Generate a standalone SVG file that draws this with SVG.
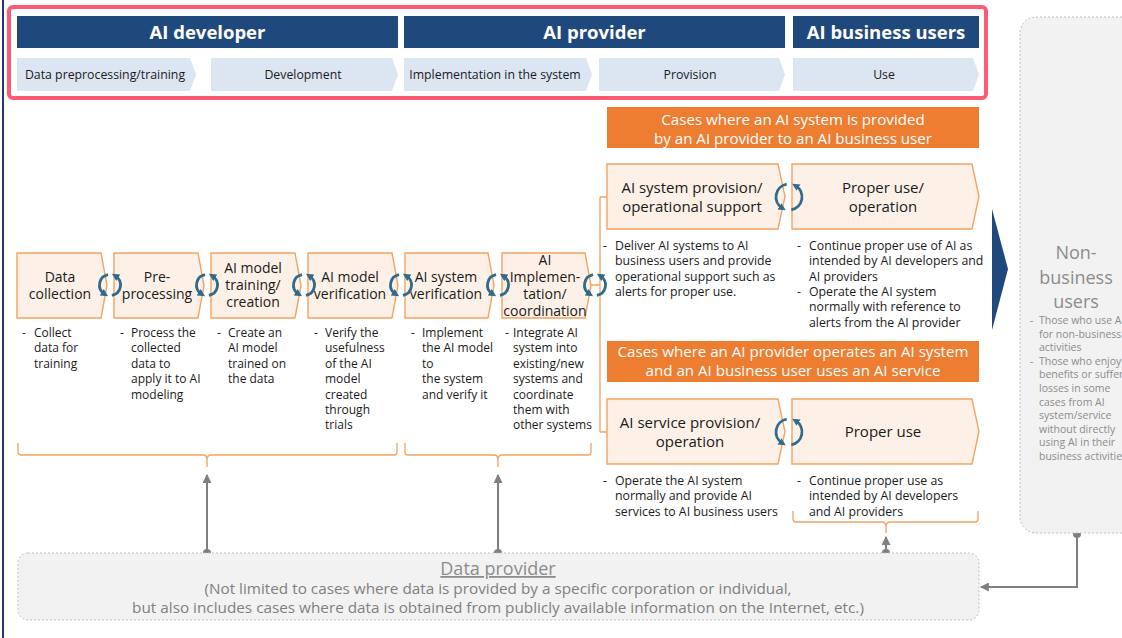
<svg xmlns="http://www.w3.org/2000/svg" width="1122" height="638" viewBox="0 0 1122 638">
  <defs>
    <style>
      text { font-family: "Open Sans", "Liberation Sans", sans-serif; }
      .bar { fill: #1f497d; }
      .barText { fill: #ffffff; font-size: 18.5px; font-weight: bold; text-anchor: middle; }
      .sub { fill: #dce6f2; }
      .subText { fill: #1a1a1a; font-size: 12.3px; text-anchor: middle; }
      .step { fill: #fdf1e7; stroke: #f4a262; stroke-width: 1.4; }
      .stepText { fill: #1a1a1a; font-size: 14px; text-anchor: middle; }
      .caseStep { fill: #fdf1e7; stroke: #f4a262; stroke-width: 1.4; }
      .caseText { fill: #1a1a1a; font-size: 15px; text-anchor: middle; }
      .desc { fill: #1a1a1a; font-size: 12px; }
      .descWide { fill: #1a1a1a; font-size: 12.3px; }
      .caseHead { fill: #ed7d31; }
      .caseHeadText { fill: #ffffff; font-size: 15.1px; text-anchor: middle; }
      .bracket { fill: none; stroke: #f4a262; stroke-width: 1.3; }
      .cycle { fill: none; stroke: #2e6b8c; stroke-width: 2.8; }
      .gray { fill: none; stroke: #7f7f7f; stroke-width: 2; }
      .dot { fill: #7f7f7f; }
      .panel { fill: #f2f2f2; stroke: #bfbfbf; stroke-width: 1; stroke-dasharray: 2 2; }
      .panelTitle { fill: #8c8c8c; text-anchor: middle; }
    </style>
    <marker id="cycleHead" viewBox="0 0 6 6" refX="2.5" refY="3" markerWidth="7.5" markerHeight="7.5" markerUnits="userSpaceOnUse" orient="auto">
      <path d="M0,0 L6,3 L0,6 Z" fill="#2e6b8c"/>
    </marker>
    <marker id="grayHead" viewBox="0 0 8 8" refX="7" refY="4" markerWidth="9" markerHeight="9" markerUnits="userSpaceOnUse" orient="auto">
      <path d="M0,0 L8,4 L0,8 Z" fill="#7f7f7f"/>
    </marker>
    <!-- rotating-arrows glyph -->
    <g id="cycleSmall">
      <path class="cycle" d="M-1.9,-10.3 A10.5,10.5 0 0 0 -5.6,8.9" marker-end="url(#cycleHead)"/>
      <path class="cycle" d="M1.9,10.3 A10.5,10.5 0 0 0 5.6,-8.9" marker-end="url(#cycleHead)"/>
    </g>
    <g id="cycleLarge">
      <path class="cycle" d="M-2.3,-12.8 A13,13 0 0 0 -6.9,11" marker-end="url(#cycleHead)"/>
      <path class="cycle" d="M2.3,12.8 A13,13 0 0 0 6.9,-11" marker-end="url(#cycleHead)"/>
    </g>
  </defs>

  <rect width="1122" height="638" fill="#ffffff"/>
  <!-- page edge -->
  <line x1="3" y1="0" x2="3" y2="638" stroke="#2e3170" stroke-width="2"/>

  <!-- role header -->
  <g id="roles">
    <rect x="9" y="7" width="977" height="91" rx="4" fill="none" stroke="#ff5a73" stroke-width="4"/>
    <g id="role-developer">
      <rect class="bar" x="17" y="16" width="381" height="32"/>
      <text class="barText" x="207.5" y="39">AI developer</text>
    </g>
    <g id="role-provider">
      <rect class="bar" x="404" y="16" width="381" height="32"/>
      <text class="barText" x="594.5" y="39">AI provider</text>
    </g>
    <g id="role-business">
      <rect class="bar" x="793" y="16" width="186" height="32"/>
      <text class="barText" x="886" y="39">AI business users</text>
    </g>
    <g id="phase-preprocessing">
      <path class="sub" d="M17,58 H190 L196,74.5 L190,91 H17 Z"/>
      <text class="subText" x="105" y="79">Data preprocessing/training</text>
    </g>
    <g id="phase-development">
      <path class="sub" d="M211,58 H392 L398,74.5 L392,91 H211 Z"/>
      <text class="subText" x="303" y="79">Development</text>
    </g>
    <g id="phase-implementation">
      <path class="sub" d="M404,58 H586 L592,74.5 L586,91 H404 Z"/>
      <text class="subText" x="495" y="79">Implementation in the system</text>
    </g>
    <g id="phase-provision">
      <path class="sub" d="M599,58 H779 L785,74.5 L779,91 H599 Z"/>
      <text class="subText" x="690" y="79">Provision</text>
    </g>
    <g id="phase-use">
      <path class="sub" d="M793,58 H973 L979,74.5 L973,91 H793 Z"/>
      <text class="subText" x="884" y="79">Use</text>
    </g>
  </g>

  <!-- connectors -->
  <g id="connectors">
    <path class="bracket" d="M591,285 H600 M600,197 V432 M600,197 H607 M600,432 H607"/>
    <path class="bracket" d="M18,443 V452 Q18,455 21,455 H203 Q207,455 207,460 V467 M207,460 Q207,455 211,455 H394 Q397,455 397,452 V443"/>
    <path class="bracket" d="M405,443 V452 Q405,455 408,455 H494 Q498,455 498,460 V467 M498,460 Q498,455 502,455 H588 Q591,455 591,452 V443"/>
    <path class="bracket" d="M793,511 V519 Q793,522 796,522 H882 Q886,522 886,527 V533 M886,527 Q886,522 890,522 H975 Q978,522 978,519 V511"/>
    <path class="gray" d="M207,553 V475" marker-end="url(#grayHead)"/>
    <path class="gray" d="M498,553 V475" marker-end="url(#grayHead)"/>
    <path class="gray" d="M886,553 V537" marker-end="url(#grayHead)"/>
    <path class="gray" d="M1077,534 V587 H981" marker-end="url(#grayHead)"/>
    <circle class="dot" cx="207" cy="553" r="4"/>
    <circle class="dot" cx="498" cy="553" r="4"/>
    <circle class="dot" cx="886" cy="553" r="4"/>
    <circle class="dot" cx="1077" cy="534" r="4"/>
  </g>

  <!-- development chain -->
  <g id="step-collection">
    <path class="step" d="M17,253 H101 L107,285.5 L101,318 H17 Z"/>
    <text class="stepText" x="60" y="282"><tspan x="60">Data</tspan><tspan x="60" dy="17">collection</tspan></text>
    <text class="desc" x="22" y="337">-</text>
    <text class="desc" y="337"><tspan x="34">Collect</tspan><tspan x="34" dy="15.4">data for</tspan><tspan x="34" dy="15.4">training</tspan></text>
  </g>
  <g id="step-preprocessing">
    <path class="step" d="M114,253 H198 L204,285.5 L198,318 H114 Z"/>
    <text class="stepText" x="157" y="282"><tspan x="157">Pre-</tspan><tspan x="157" dy="17">processing</tspan></text>
    <text class="desc" x="120" y="337">-</text>
    <text class="desc" y="337"><tspan x="131">Process the</tspan><tspan x="131" dy="15.4">collected</tspan><tspan x="131" dy="15.4">data to</tspan><tspan x="131" dy="15.4">apply it to AI</tspan><tspan x="131" dy="15.4">modeling</tspan></text>
  </g>
  <g id="step-training">
    <path class="step" d="M211,253 H295 L301,285.5 L295,318 H211 Z"/>
    <text class="stepText" x="253" y="273"><tspan x="253">AI model</tspan><tspan x="253" dy="17">training/</tspan><tspan x="253" dy="17">creation</tspan></text>
    <text class="desc" x="217" y="337">-</text>
    <text class="desc" y="337"><tspan x="228">Create an</tspan><tspan x="228" dy="15.4">AI model</tspan><tspan x="228" dy="15.4">trained on</tspan><tspan x="228" dy="15.4">the data</tspan></text>
  </g>
  <g id="step-model-verification">
    <path class="step" d="M308,253 H392 L398,285.5 L392,318 H308 Z"/>
    <text class="stepText" x="350" y="282"><tspan x="350">AI model</tspan><tspan x="350" dy="17">verification</tspan></text>
    <text class="desc" x="314" y="337">-</text>
    <text class="desc" y="337"><tspan x="325">Verify the</tspan><tspan x="325" dy="15.4">usefulness</tspan><tspan x="325" dy="15.4">of the AI</tspan><tspan x="325" dy="15.4">model</tspan><tspan x="325" dy="15.4">created</tspan><tspan x="325" dy="15.4">through</tspan><tspan x="325" dy="15.4">trials</tspan></text>
  </g>
  <g id="step-system-verification">
    <path class="step" d="M405,253 H488 L494,285.5 L488,318 H405 Z"/>
    <text class="stepText" x="446" y="282"><tspan x="446">AI system</tspan><tspan x="446" dy="17">verification</tspan></text>
    <text class="desc" x="411" y="337">-</text>
    <text class="desc" y="337"><tspan x="422">Implement</tspan><tspan x="422" dy="15.4">the AI model</tspan><tspan x="422" dy="15.4">to</tspan><tspan x="422" dy="15.4">the system</tspan><tspan x="422" dy="15.4">and verify it</tspan></text>
  </g>
  <g id="step-implementation">
    <path class="step" d="M502,253 H585 L591,285.5 L585,318 H502 Z"/>
    <text class="stepText" x="545" y="265"><tspan x="545">AI</tspan><tspan x="545" dy="17">Implemen-</tspan><tspan x="545" dy="17">tation/</tspan><tspan x="545" dy="17">coordination</tspan></text>
    <text class="desc" x="505" y="337">-</text>
    <text class="desc" y="337"><tspan x="513">Integrate AI</tspan><tspan x="513" dy="15.4">system into</tspan><tspan x="513" dy="15.4">existing/new</tspan><tspan x="513" dy="15.4">systems and</tspan><tspan x="513" dy="15.4">coordinate</tspan><tspan x="513" dy="15.4">them with</tspan><tspan x="513" dy="15.4">other systems</tspan></text>
  </g>

  <!-- case: system provided to business user -->
  <g id="case-system">
    <rect class="caseHead" x="607" y="107" width="372" height="41"/>
    <text class="caseHeadText" x="793" y="125"><tspan x="793">Cases where an AI system is provided</tspan><tspan x="793" dy="19">by an AI provider to an AI business user</tspan></text>
  </g>
  <g id="system-provision">
    <path class="caseStep" d="M607,164 H778 L785,196.5 L778,229 H607 Z"/>
    <text class="caseText" x="692" y="193"><tspan x="692">AI system provision/</tspan><tspan x="692" dy="19">operational support</tspan></text>
    <text class="descWide" x="603" y="250">-</text>
    <text class="descWide" y="250"><tspan x="615">Deliver AI systems to AI</tspan><tspan x="615" dy="15.3">business users and provide</tspan><tspan x="615" dy="15.3">operational support such as</tspan><tspan x="615" dy="15.3">alerts for proper use.</tspan></text>
  </g>
  <g id="system-use">
    <path class="caseStep" d="M792,164 H972 L979,196.5 L972,229 H792 Z"/>
    <text class="caseText" x="883" y="193"><tspan x="883">Proper use/</tspan><tspan x="883" dy="19">operation</tspan></text>
    <text class="descWide" x="797" y="250">-</text>
    <text class="descWide" y="250"><tspan x="809">Continue proper use of AI as</tspan><tspan x="809" dy="15.3">intended by AI developers and</tspan><tspan x="809" dy="15.3">AI providers</tspan></text>
    <text class="descWide" x="797" y="296">-</text>
    <text class="descWide" y="296"><tspan x="809">Operate the AI system</tspan><tspan x="809" dy="15.3">normally with reference to</tspan><tspan x="809" dy="15.3">alerts from the AI provider</tspan></text>
  </g>

  <!-- case: provider operates, business user uses service -->
  <g id="case-service">
    <rect class="caseHead" x="607" y="341" width="372" height="41"/>
    <text class="caseHeadText" x="793" y="357"><tspan x="793">Cases where an AI provider operates an AI system</tspan><tspan x="793" dy="19">and an AI business user uses an AI service</tspan></text>
  </g>
  <g id="service-provision">
    <path class="caseStep" d="M607,399 H778 L785,431.5 L778,464 H607 Z"/>
    <text class="caseText" x="690" y="428"><tspan x="690">AI service provision/</tspan><tspan x="690" dy="19">operation</tspan></text>
    <text class="descWide" x="603" y="485">-</text>
    <text class="descWide" y="485"><tspan x="615">Operate the AI system</tspan><tspan x="615" dy="15.3">normally and provide AI</tspan><tspan x="615" dy="15.3">services to AI business users</tspan></text>
  </g>
  <g id="service-use">
    <path class="caseStep" d="M792,399 H972 L979,431.5 L972,464 H792 Z"/>
    <text class="caseText" x="883" y="437">Proper use</text>
    <text class="descWide" x="797" y="485">-</text>
    <text class="descWide" y="485"><tspan x="809">Continue proper use as</tspan><tspan x="809" dy="15.3">intended by AI developers</tspan><tspan x="809" dy="15.3">and AI providers</tspan></text>
  </g>

  <!-- iteration glyphs between steps -->
  <g id="cycles">
    <use href="#cycleSmall" x="110" y="285"/>
    <use href="#cycleSmall" x="207" y="285"/>
    <use href="#cycleSmall" x="304" y="285"/>
    <use href="#cycleSmall" x="401" y="285"/>
    <use href="#cycleSmall" x="498" y="285"/>
    <use href="#cycleSmall" x="595" y="285"/>
    <use href="#cycleLarge" x="789" y="197"/>
    <use href="#cycleLarge" x="789" y="432"/>
  </g>

  <!-- hand-over to non-business users -->
  <g id="handover-arrow">
    <path d="M992,209 L1008,269 L992,330 Z" fill="#1f497d"/>
  </g>

  <g id="non-business-users">
    <rect class="panel" x="1020" y="17" width="130" height="516" rx="16"/>
    <text class="panelTitle" x="1076" y="259" font-size="18"><tspan x="1076">Non-</tspan><tspan x="1076" dy="24.5">business</tspan><tspan x="1076" dy="24.5">users</tspan></text>
    <text x="1030" y="324" font-size="10.5" fill="#8c8c8c">-</text>
    <text y="324" font-size="10.5" fill="#8c8c8c"><tspan x="1039">Those who use AI</tspan><tspan x="1039" dy="13.6">for non-business</tspan><tspan x="1039" dy="13.6">activities</tspan></text>
    <text x="1030" y="364.8" font-size="10.5" fill="#8c8c8c">-</text>
    <text y="364.8" font-size="10.5" fill="#8c8c8c"><tspan x="1039">Those who enjoy</tspan><tspan x="1039" dy="13.6">benefits or suffer</tspan><tspan x="1039" dy="13.6">losses in some</tspan><tspan x="1039" dy="13.6">cases  from AI</tspan><tspan x="1039" dy="13.6">system/service</tspan><tspan x="1039" dy="13.6">without directly</tspan><tspan x="1039" dy="13.6">using AI in their</tspan><tspan x="1039" dy="13.6">business activities</tspan></text>
  </g>

  <g id="data-provider">
    <rect class="panel" x="18" y="553" width="961" height="67" rx="10"/>
    <text class="panelTitle" x="498" y="575" font-size="18" fill="#7f7f7f" text-decoration="underline">Data provider</text>
    <text x="498" y="594" font-size="15.3" fill="#7f7f7f" text-anchor="middle"><tspan x="498">(Not limited to cases where data is provided by a specific corporation or individual,</tspan><tspan x="498" dy="19">but also includes cases where data is obtained from publicly available information on the Internet, etc.)</tspan></text>
  </g>
</svg>
